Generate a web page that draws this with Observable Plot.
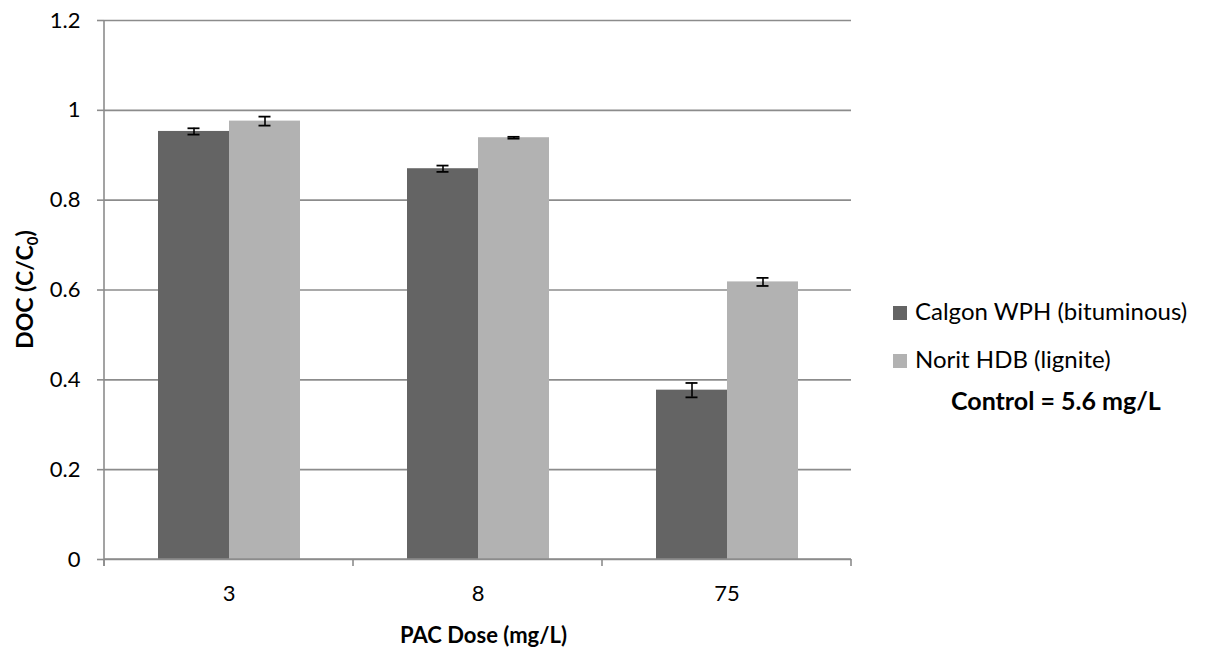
<!DOCTYPE html>
<html><head><meta charset="utf-8">
<script src="https://cdn.jsdelivr.net/npm/d3@7"></script>
<script src="https://cdn.jsdelivr.net/npm/@observablehq/plot@0.6"></script>
<style>body{margin:0;background:#fff} #chart{position:relative;width:1206px;height:652px}</style>
</head><body><div id="chart"></div>
<script>
const doses = ["3", "8", "75"];
const seriesNames = ["Calgon WPH (bituminous)", "Norit HDB (lignite)"];
const calgonValues = [0.953, 0.870, 0.377];
const calgonErrors = [0.007, 0.007, 0.016];
const noritValues = [0.976, 0.939, 0.618];
const noritErrors = [0.010, 0.002, 0.009];
const seriesColors = ["#646464", "#b2b2b2"];
const yTicks = [0, 0.2, 0.4, 0.6, 0.8, 1, 1.2];
const xTitle = "PAC Dose (mg/L)";
const noteText = "Control = 5.6 mg/L";

const rows = doses.flatMap((d, i) => [
  {dose: d, series: seriesNames[0], value: calgonValues[i], err: calgonErrors[i]},
  {dose: d, series: seriesNames[1], value: noritValues[i], err: noritErrors[i]}
]);

const FONT = "Lato, 'Open Sans', sans-serif";
const GRAY = "#8c8c8c";
const capOpts = {fx: "dose", x: "series", stroke: "#000", strokeWidth: 1.8, insetLeft: 29.5, insetRight: 29.5};

const plot = Plot.plot({
  width: 1206, height: 652,
  marginLeft: 104, marginRight: 355, marginTop: 20, marginBottom: 93,
  style: {fontFamily: FONT, fontSize: "22px", color: "#000", background: "#fff"},
  fx: {domain: doses, padding: 0},
  x: {domain: seriesNames, paddingInner: 0, paddingOuter: 0.75, axis: null},
  y: {domain: [0, 1.2]},
  color: {domain: seriesNames, range: seriesColors},
  marks: [
    Plot.gridY(yTicks, {stroke: GRAY, strokeOpacity: 1, strokeWidth: 1.6}),
    Plot.barY(rows, {fx: "dose", x: "series", y: "value", fill: "series"}),
    Plot.ruleX(rows, {fx: "dose", x: "series", y1: d => d.value - d.err, y2: d => d.value + d.err, stroke: "#000", strokeWidth: 1.6}),
    Plot.tickY(rows, {...capOpts, y: d => d.value - d.err}),
    Plot.tickY(rows, {...capOpts, y: d => d.value + d.err}),
    Plot.axisY(yTicks, {tickSize: 7, tickPadding: 17, tickFormat: d => String(+d.toFixed(1)), stroke: GRAY, strokeWidth: 1.6, fill: "#000", fontSize: 22, label: null}),
    Plot.axisFx({anchor: "bottom", tickSize: 0, tickPadding: 26, fontSize: 22, label: null, fill: "#000"})
  ]
});
document.getElementById("chart").appendChild(plot);

// Excel-style axis lines and boundary ticks, positioned from Plot's own scales
const svg = d3.select(plot);
const fx = plot.scale("fx"), ys = plot.scale("y");
let edges;
if (fx && fx.apply) {
  const bw = fx.bandwidth;
  edges = doses.map(d => fx.apply(d));
  edges.push(edges[edges.length - 1] + bw);
} else {
  const l = 104, r = 1206 - 355, s = (r - l) / doses.length;
  edges = d3.range(doses.length + 1).map(i => l + i * s);
}
const y0 = ys.apply(0), yTop = ys.apply(1.2);
const ag = svg.append("g").attr("stroke", GRAY).attr("stroke-width", 1.6);
ag.append("line").attr("x1", edges[0]).attr("x2", edges[edges.length - 1]).attr("y1", y0).attr("y2", y0);
ag.append("line").attr("x1", edges[0]).attr("x2", edges[0]).attr("y1", yTop).attr("y2", y0 + 7);
edges.forEach(e => ag.append("line").attr("x1", e).attr("x2", e).attr("y1", y0).attr("y2", y0 + 7));

// Titles
const tg = svg.append("g").attr("font-family", FONT).attr("font-size", 23).attr("fill", "#000");
const yt = tg.append("text").attr("transform", `translate(33,${(y0 + yTop) / 2}) rotate(-90)`)
  .attr("text-anchor", "middle").attr("font-weight", "bold");
yt.append("tspan").text("DOC (C/C");
yt.append("tspan").attr("dy", 5).attr("font-size", 15).text("0");
yt.append("tspan").attr("dy", -5).text(")");
tg.append("text").attr("x", (edges[0] + edges[edges.length - 1]) / 2 + 6).attr("y", 643)
  .attr("text-anchor", "middle").attr("font-weight", "bold").attr("font-size", 22).text(xTitle);

// Legend
const lg = svg.append("g").attr("font-family", FONT).attr("font-size", 24).attr("fill", "#000").attr("text-anchor", "start");
const legendRows = [320, 368];
seriesNames.forEach((s, i) => {
  lg.append("rect").attr("x", 893).attr("y", legendRows[i] - 14).attr("width", 14).attr("height", 14).attr("fill", seriesColors[i]);
  lg.append("text").attr("x", 915).attr("y", legendRows[i]).attr("text-anchor", "start").text(s);
});
lg.append("text").attr("x", 951).attr("y", 410).attr("text-anchor", "start").attr("font-weight", "bold").attr("font-size", 25).text(noteText);
</script>
</body></html>
